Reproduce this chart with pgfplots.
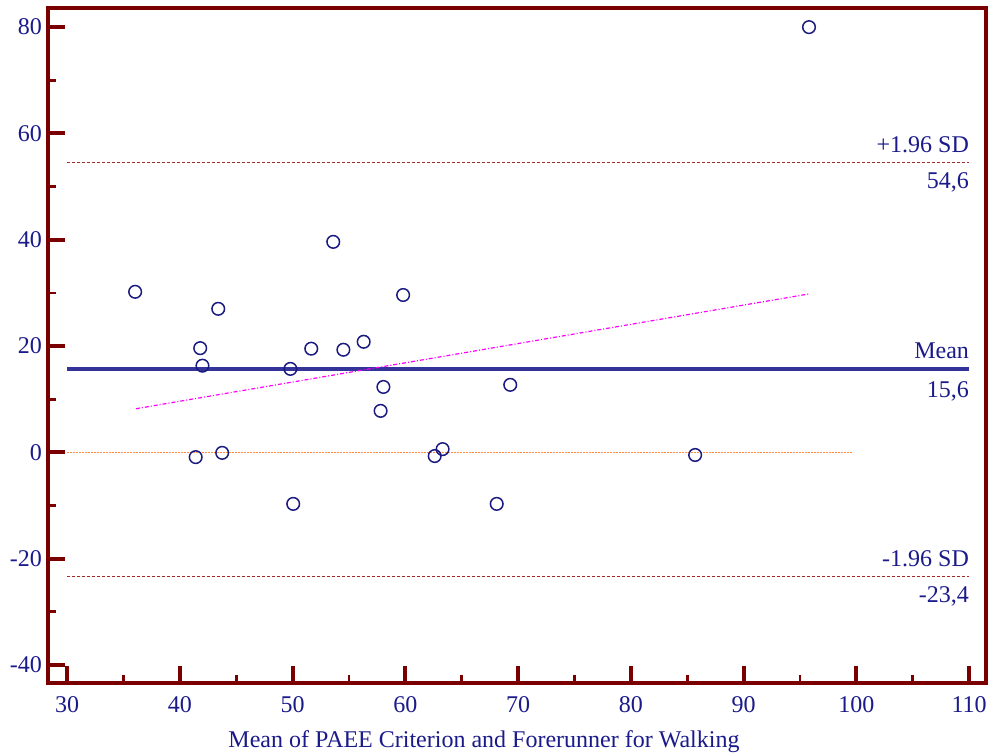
\documentclass[border=0pt]{standalone}
\usepackage{fontspec}
\setmainfont{Liberation Serif}
\usepackage{pgfplots}
\pgfplotsset{compat=1.18}
\definecolor{frame}{RGB}{122,0,0}
\definecolor{txt}{RGB}{26,26,138}
\definecolor{meanc}{RGB}{51,51,153}
\definecolor{sdc}{RGB}{165,42,42}
\definecolor{zeroc}{RGB}{255,140,60}
\definecolor{regc}{RGB}{255,0,255}
\definecolor{markc}{RGB}{26,26,128}
\newcommand{\fs}{\fontsize{24bp}{28bp}\selectfont}
\begin{document}
\begin{tikzpicture}
\path[use as bounding box] (-48bp,-73bp) rectangle (946bp,683bp);
\begin{axis}[
  at={(0,0)}, anchor=south west,
  scale only axis, width=938bp, height=675bp,
  xmin=28.3, xmax=111.5, ymin=-43.4, ymax=83.6,
  axis line style={draw=frame, line width=4bp},
  tick align=inside,
  xtick pos=bottom, ytick pos=left,
  xtick={30,40,50,60,70,80,90,100,110},
  xticklabels={30,40,50,60,70,80,90,100,110},
  ytick={-40,-20,0,20,40,60,80},
  yticklabels={-40,-20,0,20,40,60,80},
  minor xtick={35,45,55,65,75,85,95,105},
  minor ytick={-30,-10,10,30,50,70},
  major tick length=17bp, minor tick length=8bp,
  every major tick/.style={draw=frame, line width=4bp},
  every minor tick/.style={draw=frame, line width=2.7bp},
  tick label style={font=\fs, text=txt},
  xticklabel style={anchor=base, yshift=-29bp},
  yticklabel style={anchor=east, inner sep=0pt, xshift=-6bp},
  xlabel={Mean of PAEE Criterion and Forerunner for Walking},
  xlabel style={font=\fs, text=txt, at={(axis description cs:0.4648,0)}, anchor=base, yshift=-64bp},
  clip=false,
]
% zero line
\addplot[zeroc, line width=1.5bp, dash pattern=on 1.5bp off 1.5bp] coordinates {(30,0) (99.6,0)};
% SD lines
\addplot[sdc, line width=1.2bp, dash pattern=on 3bp off 2bp] coordinates {(30,54.6) (110,54.6)};
\addplot[sdc, line width=1.2bp, dash pattern=on 3bp off 2bp] coordinates {(30,-23.4) (110,-23.4)};
% mean line
\addplot[meanc, line width=4bp] coordinates {(30,15.6) (110,15.6)};
% regression line
\addplot[regc, line width=1.2bp, dash pattern=on 4bp off 2bp on 1bp off 2bp] coordinates {(36.1,8.2) (95.8,29.8)};
% points
\addplot[only marks, mark=o, mark size=6.3bp, mark options={draw=markc, line width=1.5bp}] coordinates {
(36.03,30.2) (43.4,27.0) (41.8,19.6) (42.0,16.3) (41.4,-0.9) (43.75,-0.1)
(49.8,15.7) (50.05,-9.7) (51.65,19.5) (53.6,39.6) (54.5,19.3) (56.3,20.8)
(57.8,7.8) (58.05,12.3) (59.8,29.6) (62.6,-0.7) (63.3,0.6) (68.1,-9.7)
(69.3,12.7) (85.7,-0.5) (95.8,80.0)
};
\node[font=\fs, text=txt, anchor=base east, inner sep=0pt, yshift=10bp] at (axis cs:110,54.6) {+1.96 SD};
\node[font=\fs, text=txt, anchor=base east, inner sep=0pt, yshift=-26bp] at (axis cs:110,54.6) {54,6};
\node[font=\fs, text=txt, anchor=base east, inner sep=0pt, yshift=10.5bp] at (axis cs:110,15.6) {Mean};
\node[font=\fs, text=txt, anchor=base east, inner sep=0pt, yshift=-28bp] at (axis cs:110,15.6) {15,6};
\node[font=\fs, text=txt, anchor=base east, inner sep=0pt, yshift=10bp] at (axis cs:110,-23.4) {-1.96 SD};
\node[font=\fs, text=txt, anchor=base east, inner sep=0pt, yshift=-26bp] at (axis cs:110,-23.4) {-23,4};
\end{axis}
\end{tikzpicture}
\end{document}
